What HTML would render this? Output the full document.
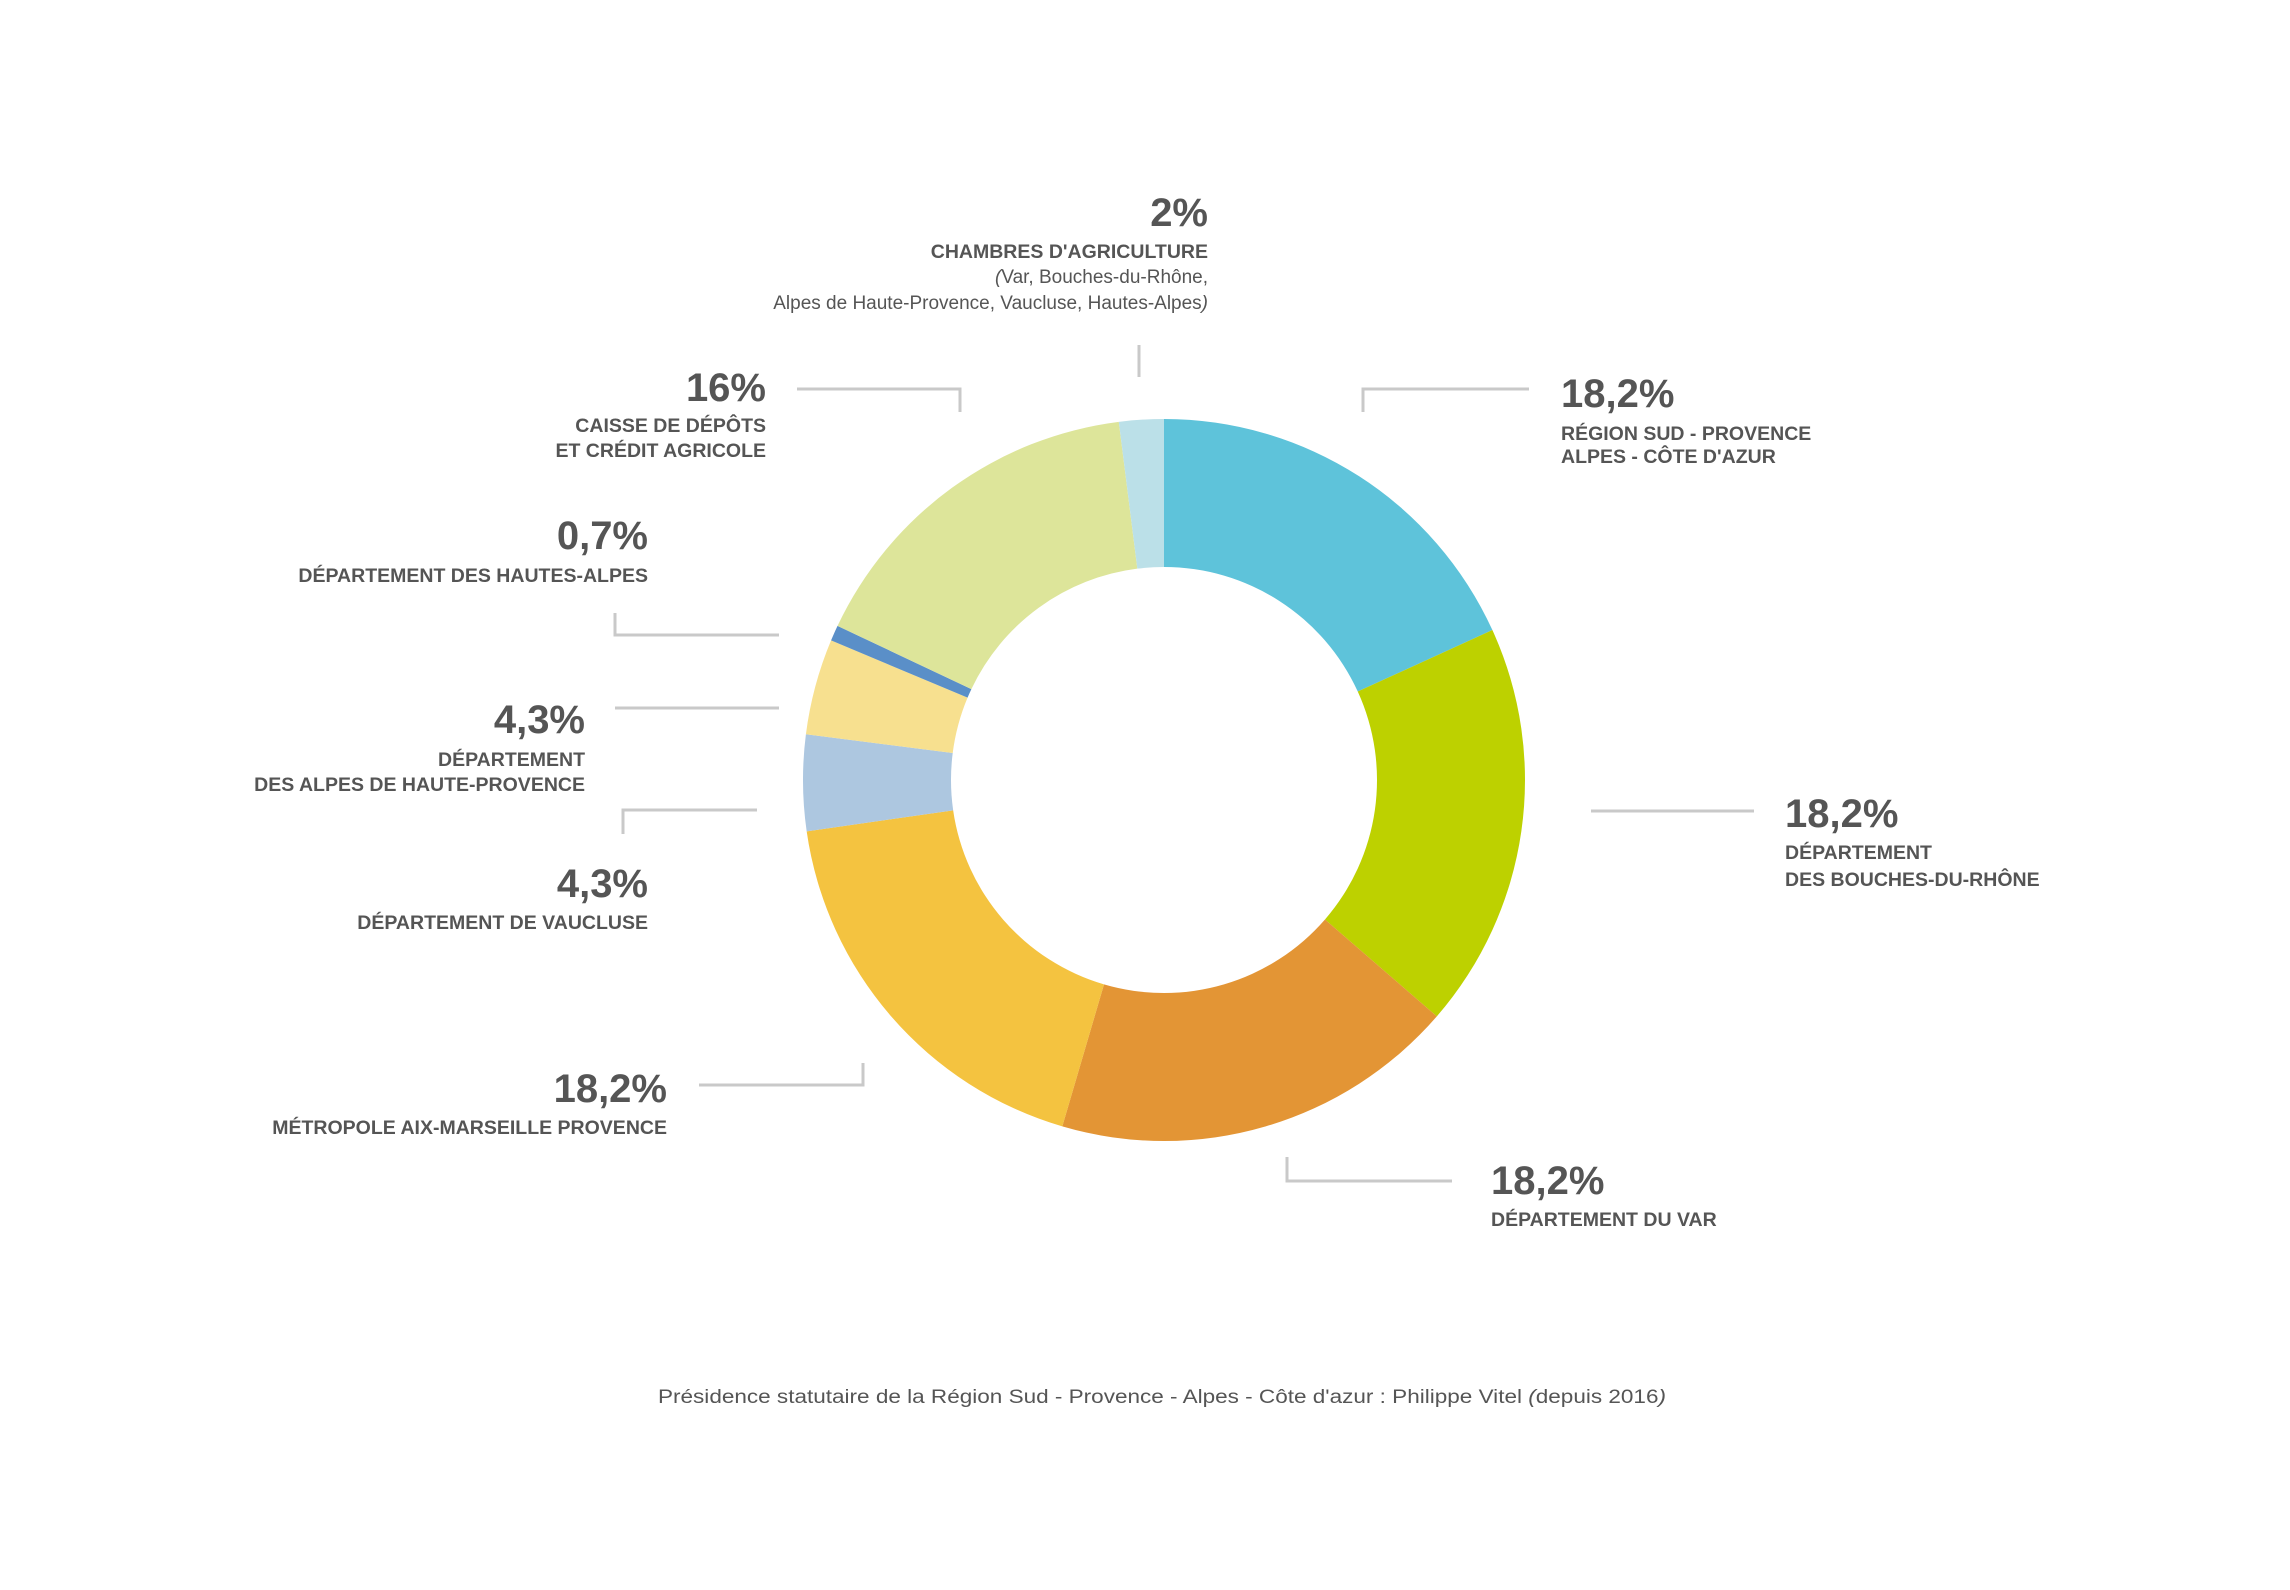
<!DOCTYPE html>
<html><head><meta charset="utf-8"><style>
html,body{margin:0;padding:0;background:#fff}
svg{display:block}
text{font-family:"Liberation Sans",sans-serif;fill:#555}
.pct{font-size:40px;font-weight:bold}
.lab{font-size:19.5px;font-weight:bold}
.sub{font-size:19px}
</style></head><body>
<svg id="chart" width="2290" height="1590" viewBox="0 0 2290 1590" xmlns="http://www.w3.org/2000/svg">
<g id="slices"></g>
<g id="connectors" stroke="#c9c9c9" stroke-width="3" fill="none">
<polyline points="1363,412 1363,389 1529,389"/>
<line x1="1591" y1="811" x2="1754" y2="811"/>
<polyline points="1287,1157 1287,1181 1452,1181"/>
<polyline points="699,1085 863,1085 863,1063"/>
<polyline points="757,810 623,810 623,834"/>
<line x1="615" y1="708" x2="779" y2="708"/>
<polyline points="615,613 615,635 779,635"/>
<polyline points="797,389 960,389 960,412"/>
<line x1="1139" y1="345" x2="1139" y2="377"/>
</g>
<g text-anchor="end">
<text class="pct" x="1208" y="226">2%</text>
<text class="lab" x="1208" y="258">CHAMBRES D'AGRICULTURE</text>
<text class="sub" x="1208" y="283"><tspan font-style="italic">(</tspan>Var, Bouches-du-Rhône,</text>
<text class="sub" x="1208" y="309">Alpes de Haute-Provence, Vaucluse, Hautes-Alpes<tspan font-style="italic">)</tspan></text>
</g>
<g text-anchor="end">
<text class="pct" x="766" y="401">16%</text>
<text class="lab" x="766" y="432">CAISSE DE DÉPÔTS</text>
<text class="lab" x="766" y="457">ET CRÉDIT AGRICOLE</text>
</g>
<g>
<text class="pct" x="1561" y="407">18,2%</text>
<text class="lab" x="1561" y="440">RÉGION SUD - PROVENCE</text>
<text class="lab" x="1561" y="463">ALPES - CÔTE D'AZUR</text>
</g>
<g text-anchor="end">
<text class="pct" x="648" y="549">0,7%</text>
<text class="lab" x="648" y="582">DÉPARTEMENT DES HAUTES-ALPES</text>
</g>
<g text-anchor="end">
<text class="pct" x="585" y="733">4,3%</text>
<text class="lab" x="585" y="766">DÉPARTEMENT</text>
<text class="lab" x="585" y="791">DES ALPES DE HAUTE-PROVENCE</text>
</g>
<g text-anchor="end">
<text class="pct" x="648" y="897">4,3%</text>
<text class="lab" x="648" y="929">DÉPARTEMENT DE VAUCLUSE</text>
</g>
<g text-anchor="end">
<text class="pct" x="667" y="1102">18,2%</text>
<text class="lab" x="667" y="1134">MÉTROPOLE AIX-MARSEILLE PROVENCE</text>
</g>
<g>
<text class="pct" x="1491" y="1194">18,2%</text>
<text class="lab" x="1491" y="1226">DÉPARTEMENT DU VAR</text>
</g>
<g>
<text class="pct" x="1785" y="827">18,2%</text>
<text class="lab" x="1785" y="859">DÉPARTEMENT</text>
<text class="lab" x="1785" y="886">DES BOUCHES-DU-RHÔNE</text>
</g>
<text class="sub" x="1162" y="1403" text-anchor="middle" textLength="1008" lengthAdjust="spacingAndGlyphs">Présidence statutaire de la Région Sud - Provence - Alpes - Côte d'azur : Philippe Vitel <tspan font-style="italic">(</tspan>depuis 2016<tspan font-style="italic">)</tspan></text>
</svg>
<script>
const categories = ["Région Sud", "Bouches-du-Rhône", "Var", "Métropole Aix-Marseille", "Vaucluse", "Alpes de Haute-Provence", "Hautes-Alpes", "Caisse de Dépôts et Crédit Agricole", "Chambres d'Agriculture"];
const values = [18.2, 18.2, 18.2, 18.2, 4.3, 4.3, 0.7, 16, 2];
const colors = ["#5ec3da", "#bdd100", "#e39535", "#f4c340", "#adc7e0", "#f7e08f", "#5a8fc8", "#dde59a", "#bbe0e8"];
const CX = 1164, CY = 780, RO = 361, RI = 213;
const total = values.reduce((a, b) => a + b, 0);
function angleOf(v) { return v / total * Math.PI * 2; }
function pt(r, a) { return [CX + r * Math.sin(a), CY - r * Math.cos(a)]; }
const g = document.getElementById('slices');
let acc = 0;
values.forEach((v, i) => {
  const a0 = angleOf(acc), a1 = angleOf(acc + v);
  acc += v;
  const large = (a1 - a0) > Math.PI ? 1 : 0;
  const p0 = pt(RO, a0), p1 = pt(RO, a1), p2 = pt(RI, a1), p3 = pt(RI, a0);
  const d = `M${p0[0]},${p0[1]} A${RO},${RO} 0 ${large} 1 ${p1[0]},${p1[1]} L${p2[0]},${p2[1]} A${RI},${RI} 0 ${large} 0 ${p3[0]},${p3[1]} Z`;
  const path = document.createElementNS('http://www.w3.org/2000/svg', 'path');
  path.setAttribute('d', d);
  path.setAttribute('fill', colors[i]);
  
  
  g.appendChild(path);
});
</script>
</body></html>
